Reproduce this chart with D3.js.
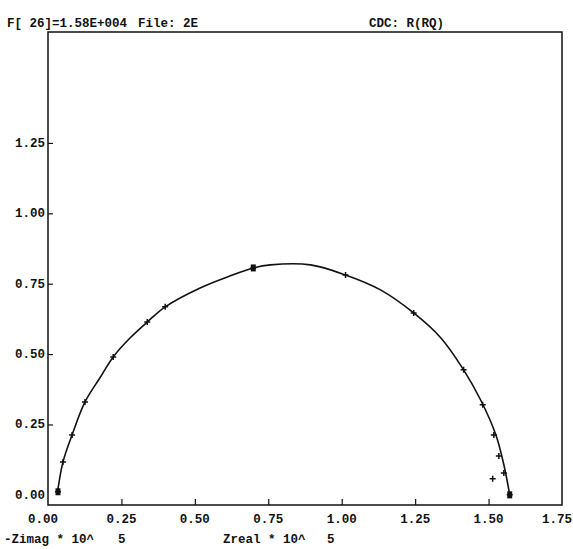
<!DOCTYPE html>
<html>
<head>
<meta charset="utf-8">
<script src="https://cdn.jsdelivr.net/npm/d3@7"></script>
<style>
  body { margin: 0; background: #fff; }
  text { font-family: "Liberation Mono", "DejaVu Sans Mono", monospace; font-weight: bold; font-size: 12.5px; fill: #111; }
</style>
</head>
<body>
<div class="chart"></div>
<script>
var svgWidth = 573;
var svgHeight = 549;

// measured points, Zreal and -Zimag (x 10^5)
var zReal = [0.034, 0.051, 0.082, 0.126, 0.222, 0.338, 0.399, 0.699, 1.013, 1.245, 1.415, 1.480, 1.518, 1.535, 1.552, 1.514, 1.572];
var zImag = [0.011, 0.117, 0.213, 0.330, 0.490, 0.614, 0.668, 0.806, 0.781, 0.646, 0.444, 0.320, 0.213, 0.138, 0.078, 0.057, 0.000];

// fitted CDC curve
var fitReal = [0.031, 0.051, 0.082, 0.126, 0.177, 0.222, 0.280, 0.338, 0.399, 0.518, 0.621, 0.699, 0.757, 0.894, 1.013, 1.132, 1.245, 1.337, 1.415, 1.473, 1.525, 1.552, 1.572];
var fitImag = [0.000, 0.117, 0.213, 0.330, 0.416, 0.490, 0.558, 0.614, 0.668, 0.735, 0.778, 0.806, 0.817, 0.817, 0.781, 0.728, 0.646, 0.558, 0.444, 0.337, 0.213, 0.107, 0.000];

var xTicks = [0, 0.25, 0.5, 0.75, 1.0, 1.25, 1.5, 1.75];
var yTicks = [0, 0.25, 0.5, 0.75, 1.0, 1.25];

var margin = { top: 32, right: 11, bottom: 44, left: 48 };
var width = svgWidth - margin.left - margin.right;
var height = svgHeight - margin.top - margin.bottom;

var svg = d3.select(".chart")
  .append("svg")
  .attr("width", svgWidth)
  .attr("height", svgHeight);

var chartGroup = svg.append("g")
  .attr("transform", `translate(${margin.left}, ${margin.top})`);

var xScale = d3.scaleLinear()
  .domain([0, 1.75])
  .range([0, width]);

// y = 0 sits a little above the bottom of the frame
var yScale = d3.scaleLinear()
  .domain([-0.036, 1.644])
  .range([height, 0]);

// frame
chartGroup.append("rect")
  .attr("width", width)
  .attr("height", height)
  .attr("fill", "none")
  .attr("stroke", "#111")
  .attr("stroke-width", 1.5);

// ticks pointing inward
var bottomAxis = d3.axisTop(xScale)
  .tickValues(xTicks.slice(1, -1))
  .tickSize(6)
  .tickFormat("");
chartGroup.append("g")
  .attr("transform", `translate(0, ${height})`)
  .call(bottomAxis)
  .call(g => g.select(".domain").remove())
  .call(g => g.selectAll("line").attr("stroke", "#111").attr("stroke-width", 1.2));

var leftAxis = d3.axisRight(yScale)
  .tickValues(yTicks.slice(1))
  .tickSize(5)
  .tickFormat("");
chartGroup.append("g")
  .call(leftAxis)
  .call(g => g.select(".domain").remove())
  .call(g => g.selectAll("line").attr("stroke", "#111").attr("stroke-width", 1.2));

// tick labels
var last = xTicks[xTicks.length - 1];
chartGroup.selectAll(".xlab")
  .data(xTicks)
  .enter()
  .append("text")
  .attr("class", "xlab")
  .attr("x", d => d === last ? svgWidth - margin.left - 1 : xScale(d) - (d === 0 ? 5 : 0))
  .attr("y", height + 18)
  .attr("text-anchor", d => d === last ? "end" : "middle")
  .text(d => d.toFixed(2));

chartGroup.selectAll(".ylab")
  .data(yTicks)
  .enter()
  .append("text")
  .attr("class", "ylab")
  .attr("x", -3)
  .attr("y", d => yScale(d) + 4)
  .attr("text-anchor", "end")
  .text(d => d.toFixed(2));

// fitted curve
var fitData = fitReal.map((d, i) => ({ x: d, y: fitImag[i] }));
var line = d3.line()
  .x(d => xScale(d.x))
  .y(d => yScale(d.y))
  .curve(d3.curveCatmullRom);
chartGroup.append("path")
  .datum(fitData)
  .attr("d", line)
  .attr("fill", "none")
  .attr("stroke", "#111")
  .attr("stroke-width", 1.6);

// data markers
var pts = zReal.map((d, i) => ({ x: d, y: zImag[i], i: i }));
var marks = chartGroup.selectAll(".pt")
  .data(pts)
  .enter()
  .append("g")
  .attr("class", "pt")
  .attr("transform", d => `translate(${xScale(d.x)}, ${yScale(d.y)})`);
marks.append("path")
  .attr("d", "M-3,0H3M0,-3V3")
  .attr("stroke", "#111")
  .attr("stroke-width", 1.5);
marks.filter(d => d.i === 0 || d.i === 7 || d.i === zReal.length - 1)
  .append("rect")
  .attr("x", -2.5)
  .attr("y", -3.5)
  .attr("width", 5)
  .attr("height", 7)
  .attr("fill", "#111");

// header and axis titles
svg.append("text").attr("x", 7).attr("y", 27).text("F[ 26]=1.58E+004");
svg.append("text").attr("x", 138).attr("y", 27).text("File: 2E");
svg.append("text").attr("x", 369).attr("y", 27).text("CDC: R(RQ)");

svg.append("text").attr("x", 4).attr("y", 543).text("-Zimag * 10^");
svg.append("text").attr("x", 118).attr("y", 543).text("5");
svg.append("text").attr("x", 223).attr("y", 543).text("Zreal * 10^");
svg.append("text").attr("x", 327).attr("y", 543).text("5");
</script>
</body>
</html>
